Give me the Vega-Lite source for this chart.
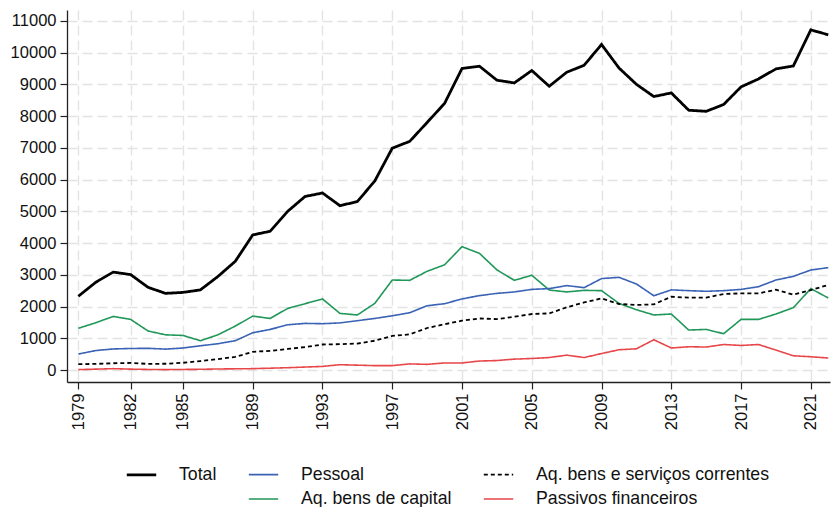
{
  "$schema": "https://vega.github.io/schema/vega-lite/v6.json",
  "width": 763,
  "height": 372,
  "autosize": {"type": "none"},
  "padding": {"left": 67, "top": 10, "right": 2, "bottom": 125},
  "background": "white",
  "config": {
    "view": {"stroke": null},
    "font": "Liberation Sans",
    "axis": {
      "labelFont": "Liberation Sans",
      "labelFontSize": 16.5,
      "labelColor": "#111",
      "domainColor": "#222",
      "domainWidth": 1.3,
      "tickColor": "#222",
      "tickWidth": 1.2,
      "tickSize": 7,
      "gridColor": "#e3e3e3",
      "gridDash": [10, 5],
      "gridWidth": 1.4,
      "title": null
    }
  },
  "data": {
    "values": [
      {"year": 1979, "T": 2330, "P": 510, "S": 190, "K": 1320, "F": 20},
      {"year": 1980, "T": 2770, "P": 620, "S": 200, "K": 1495, "F": 35},
      {"year": 1981, "T": 3090, "P": 670, "S": 220, "K": 1695, "F": 50},
      {"year": 1982, "T": 3010, "P": 685, "S": 230, "K": 1600, "F": 35},
      {"year": 1983, "T": 2610, "P": 690, "S": 200, "K": 1235, "F": 25},
      {"year": 1984, "T": 2420, "P": 665, "S": 205, "K": 1115, "F": 20},
      {"year": 1985, "T": 2450, "P": 700, "S": 235, "K": 1095, "F": 25},
      {"year": 1986, "T": 2530, "P": 770, "S": 290, "K": 930, "F": 30},
      {"year": 1987, "T": 2950, "P": 835, "S": 350, "K": 1115, "F": 40},
      {"year": 1988, "T": 3430, "P": 930, "S": 420, "K": 1390, "F": 45},
      {"year": 1989, "T": 4260, "P": 1180, "S": 580, "K": 1705, "F": 50},
      {"year": 1990, "T": 4375, "P": 1285, "S": 610, "K": 1630, "F": 65},
      {"year": 1991, "T": 5000, "P": 1430, "S": 670, "K": 1945, "F": 80},
      {"year": 1992, "T": 5470, "P": 1475, "S": 730, "K": 2095, "F": 100},
      {"year": 1993, "T": 5580, "P": 1465, "S": 810, "K": 2245, "F": 120},
      {"year": 1994, "T": 5180, "P": 1490, "S": 820, "K": 1790, "F": 175},
      {"year": 1995, "T": 5310, "P": 1560, "S": 840, "K": 1740, "F": 160},
      {"year": 1996, "T": 5960, "P": 1630, "S": 930, "K": 2105, "F": 145},
      {"year": 1997, "T": 6990, "P": 1715, "S": 1080, "K": 2840, "F": 145},
      {"year": 1998, "T": 7205, "P": 1810, "S": 1130, "K": 2830, "F": 200},
      {"year": 1999, "T": 7800, "P": 2030, "S": 1330, "K": 3115, "F": 185},
      {"year": 2000, "T": 8400, "P": 2095, "S": 1450, "K": 3320, "F": 230},
      {"year": 2001, "T": 9500, "P": 2245, "S": 1560, "K": 3890, "F": 230},
      {"year": 2002, "T": 9570, "P": 2350, "S": 1630, "K": 3680, "F": 290},
      {"year": 2003, "T": 9130, "P": 2420, "S": 1610, "K": 3160, "F": 305},
      {"year": 2004, "T": 9045, "P": 2465, "S": 1685, "K": 2830, "F": 350},
      {"year": 2005, "T": 9435, "P": 2545, "S": 1770, "K": 2990, "F": 370},
      {"year": 2006, "T": 8940, "P": 2570, "S": 1790, "K": 2525, "F": 400},
      {"year": 2007, "T": 9380, "P": 2665, "S": 1980, "K": 2465, "F": 475},
      {"year": 2008, "T": 9600, "P": 2600, "S": 2135, "K": 2515, "F": 400},
      {"year": 2009, "T": 10255, "P": 2885, "S": 2260, "K": 2505, "F": 525},
      {"year": 2010, "T": 9515, "P": 2925, "S": 2085, "K": 2105, "F": 645},
      {"year": 2011, "T": 9000, "P": 2715, "S": 2055, "K": 1905, "F": 675},
      {"year": 2012, "T": 8615, "P": 2345, "S": 2075, "K": 1740, "F": 960},
      {"year": 2013, "T": 8730, "P": 2530, "S": 2315, "K": 1770, "F": 700},
      {"year": 2014, "T": 8185, "P": 2505, "S": 2285, "K": 1265, "F": 740},
      {"year": 2015, "T": 8150, "P": 2485, "S": 2285, "K": 1285, "F": 730},
      {"year": 2016, "T": 8365, "P": 2505, "S": 2400, "K": 1150, "F": 810},
      {"year": 2017, "T": 8920, "P": 2545, "S": 2420, "K": 1600, "F": 780},
      {"year": 2018, "T": 9170, "P": 2630, "S": 2420, "K": 1600, "F": 810},
      {"year": 2019, "T": 9485, "P": 2840, "S": 2535, "K": 1770, "F": 635},
      {"year": 2020, "T": 9580, "P": 2955, "S": 2380, "K": 1970, "F": 455},
      {"year": 2021, "T": 10715, "P": 3155, "S": 2525, "K": 2570, "F": 425},
      {"year": 2022, "T": 10560, "P": 3230, "S": 2685, "K": 2275, "F": 385}
    ]
  },
  "transform": [
    {"fold": ["K", "F", "S", "P", "T"], "as": ["serie", "valor"]}
  ],
  "mark": {"type": "line", "strokeJoin": "miter", "clip": true},
  "encoding": {
    "x": {
      "field": "year",
      "type": "quantitative",
      "scale": {"domain": [1978.35, 2022.1], "nice": false, "zero": false},
      "axis": {
        "values": [1979, 1982, 1985, 1989, 1993, 1997, 2001, 2005, 2009, 2013, 2017, 2021],
        "format": "d",
        "labelAngle": -90,
        "labelPadding": 4,
        "labelAlign": "right",
        "labelBaseline": "middle"
      }
    },
    "y": {
      "field": "valor",
      "type": "quantitative",
      "scale": {"domain": [-370, 11340], "nice": false, "zero": false},
      "axis": {
        "values": [0, 1000, 2000, 3000, 4000, 5000, 6000, 7000, 8000, 9000, 10000, 11000],
        "format": "d",
        "labelPadding": 4
      }
    },
    "color": {
      "field": "serie",
      "type": "nominal",
      "scale": {
        "domain": ["T", "P", "S", "X", "K", "F"],
        "range": ["#000000", "#3a62b5", "#000000", "#ffffff", "#22975a", "#e8474a"]
      },
      "legend": {
        "title": null,
        "orient": "none",
        "legendX": 59,
        "legendY": 449,
        "direction": "horizontal",
        "columns": 3,
        "columnPadding": 28,
        "rowPadding": 0,
        "symbolType": "M-1.05,0H1.05",
        "symbolSize": 784,
        "symbolFillColor": "transparent",
        "labelOffset": 22,
        "labelFont": "Liberation Sans",
        "labelFontSize": 17.7,
        "labelColor": "#111",
        "labelLimit": 400,
        "labelExpr": "datum.value == 'T' ? 'Total' : datum.value == 'P' ? 'Pessoal' : datum.value == 'S' ? 'Aq. bens e serviços correntes' : datum.value == 'K' ? 'Aq. bens de capital' : datum.value == 'F' ? 'Passivos financeiros' : ''"
      }
    },
    "strokeDash": {
      "field": "serie",
      "type": "nominal",
      "scale": {
        "domain": ["T", "P", "S", "X", "K", "F"],
        "range": [[1, 0], [1, 0], [4, 3], [1, 0], [1, 0], [1, 0]]
      }
    },
    "strokeWidth": {
      "field": "serie",
      "type": "nominal",
      "scale": {
        "type": "ordinal",
        "domain": ["T", "P", "S", "X", "K", "F"],
        "range": [2.8, 1.6, 1.8, 1, 1.6, 1.6]
      }
    }
  }
}
